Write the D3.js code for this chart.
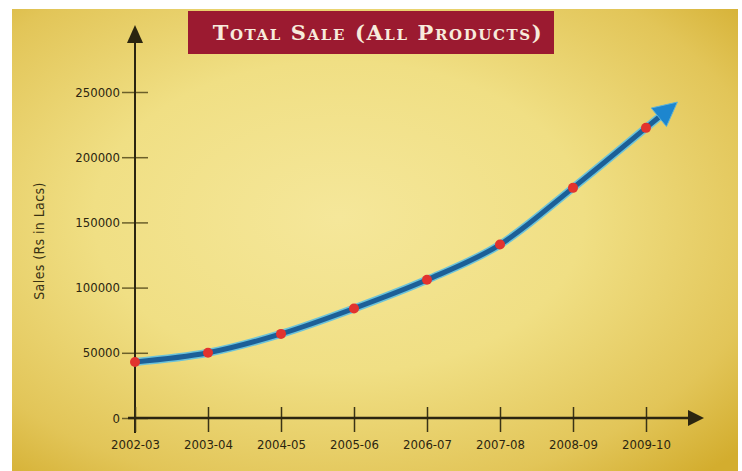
<!DOCTYPE html>
<html><head><meta charset="utf-8">
<script src="https://cdn.jsdelivr.net/npm/d3@7"></script>
<style>
html,body{margin:0;padding:0;background:#fff;}
svg{display:block;}
.tick text{font-family:"Liberation Sans Narrow","DejaVu Sans Condensed","Roboto","Liberation Sans",sans-serif;}
</style></head>
<body>
<svg id="c" width="742" height="471"></svg>
<script>
const categories = ["2002-03","2003-04","2004-05","2005-06","2006-07","2007-08","2008-09","2009-10"];
const sales = [43000, 50000, 64500, 84000, 106000, 133000, 176500, 222500];
const yTicks = [0, 50000, 100000, 150000, 200000, 250000];
const title = "Total Sale (All Products)";
const yLabel = "Sales (Rs in Lacs)";

const svg = d3.select("#c");
const defs = svg.append("defs");
const rg = defs.append("radialGradient").attr("id","bg")
  .attr("cx","45%").attr("cy","45%").attr("r","75%");
rg.append("stop").attr("offset","0%").attr("stop-color","#f5e79a");
rg.append("stop").attr("offset","45%").attr("stop-color","#f0df84");
rg.append("stop").attr("offset","80%").attr("stop-color","#e2c558");
rg.append("stop").attr("offset","100%").attr("stop-color","#d3ad2e");

svg.append("rect").attr("x",12).attr("y",9).attr("width",726).attr("height",462).attr("fill","url(#bg)");

const x = d3.scalePoint().domain(categories).range([135, 646]);
const y = d3.scaleLinear().domain([0, 250000]).range([418, 92]);

const axisColor = "#2b2510";

// Y axis
const yAxis = d3.axisLeft(y).tickValues(yTicks).tickSize(0).tickPadding(15).tickFormat(d3.format("d"));
const gy = svg.append("g").attr("transform","translate(135,0)").call(yAxis);
gy.select(".domain").remove();
gy.selectAll(".tick line").attr("x1",-13).attr("x2",13).attr("stroke","#6b5f2a").attr("stroke-width",1.5);
gy.selectAll(".tick text").attr("fill","#2b2510").attr("font-size",13);
svg.append("line").attr("x1",135).attr("x2",135).attr("y1",433).attr("y2",38)
  .attr("stroke",axisColor).attr("stroke-width",2);
svg.append("path").attr("d","M135,25 L143,43 L127,43 Z").attr("fill",axisColor);

// X axis
const xAxis = d3.axisBottom(x).tickSize(0).tickPadding(22);
const gx = svg.append("g").attr("transform","translate(0,418)").call(xAxis);
gx.select(".domain").remove();
gx.selectAll(".tick line").attr("y1",-11).attr("y2",14).attr("stroke","#3a3316").attr("stroke-width",1.5);
gx.selectAll(".tick text").attr("fill","#2b2510").attr("font-size",13);
svg.append("line").attr("x1",128).attr("x2",692).attr("y1",418).attr("y2",418)
  .attr("stroke",axisColor).attr("stroke-width",2.5);
svg.append("path").attr("d","M704,418 L688,410 L688,426 Z").attr("fill",axisColor);

// Y label
svg.append("text").attr("transform","translate(44,241) rotate(-90)")
  .attr("text-anchor","middle").attr("font-size",14).attr("letter-spacing",0.4)
  .attr("font-family","'Liberation Sans Narrow','DejaVu Sans Condensed','Liberation Sans',sans-serif")
  .attr("fill","#3a3214").text(yLabel);

// Line
const pts = categories.map((c,i)=>[x(c), y(sales[i])]);
const n = pts.length;
const dx = pts[n-1][0]-pts[n-2][0], dy = pts[n-1][1]-pts[n-2][1];
const tip = [pts[n-1][0] + dx*0.43, pts[n-1][1] + dy*0.43];
const len = Math.hypot(dx,dy), ux = dx/len, uy = dy/len;
const headLen = 24, headW = 12;
const base = [tip[0]-ux*headLen, tip[1]-uy*headLen];
const lineEnd = [tip[0]-ux*(headLen-4), tip[1]-uy*(headLen-4)];
const line = d3.line().curve(d3.curveMonotoneX);
const path = line(pts) + "L" + lineEnd[0] + "," + lineEnd[1];
svg.append("path").attr("d",path).attr("fill","none").attr("stroke","#6cc3d9").attr("stroke-width",8).attr("stroke-linecap","round");
svg.append("path").attr("d",path).attr("fill","none").attr("stroke","#1c5f97").attr("stroke-width",5).attr("stroke-linecap","round");
svg.append("path").attr("d",
  `M${tip[0]},${tip[1]} L${base[0]-uy*headW},${base[1]+ux*headW} L${base[0]+uy*headW},${base[1]-ux*headW} Z`)
  .attr("fill","#1d86cf").attr("stroke","#5fb3d6").attr("stroke-width",1);

svg.append("g").selectAll("circle").data(pts).join("circle")
  .attr("cx",d=>d[0]).attr("cy",d=>d[1]).attr("r",5).attr("fill","#e2332e");

// Title
svg.append("rect").attr("x",188).attr("y",11).attr("width",366).attr("height",43).attr("fill","#9b1a30");
svg.append("text").attr("x",378).attr("y",40).attr("text-anchor","middle")
  .attr("font-family","'DejaVu Serif','Liberation Serif',serif").attr("font-weight","bold")
  .attr("font-variant","small-caps").attr("font-size",21).attr("letter-spacing",1.6).attr("fill","#f7ebdc")
  .text(title);
</script>
</body></html>
